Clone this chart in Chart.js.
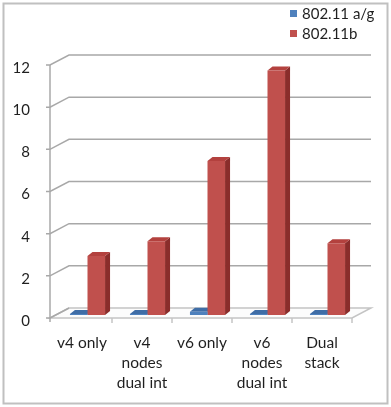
<!DOCTYPE html>
<html>
<head>
<meta charset="utf-8">
<script src="https://cdn.jsdelivr.net/npm/chart.js@4"></script>
<style>
    html, body { margin: 0; padding: 0; background: #fff; }
</style>
</head>
<body>
<canvas id="wifi-chart" width="391" height="407"></canvas>
<script>
// Veriler
const categories = [['v4 only'], ['v4', 'nodes', 'dual int'], ['v6 only'], ['v6', 'nodes', 'dual int'], ['Dual', 'stack']];
const seriesNames = ['802.11 a/g', '802.11b'];
const valuesAG = [0.05, 0.05, 0.15, 0.05, 0.05];
const valuesB = [2.8, 3.5, 7.3, 11.6, 3.4];
const yTicks = [0, 2, 4, 6, 8, 10, 12];

const COLORS = {
    ag: { front: '#4F81BD', top: '#3F6DA6', side: '#2F5488' },
    b: { front: '#C0504D', top: '#B3413E', side: '#8A2D2B' },
    grid: '#A8A8A8',
    floor: '#C4C4C4',
    text: '#1f1f1f'
};

// 3D derinlik ayarları
const BAR_SHIFT = { x: 5.5, y: -3 };
const BAR_DEPTH = { x: 5, y: -4 };
const WALL_DEPTH = { x: 19, y: -10 };

function poly(ctx, pts, fill, stroke) {
    ctx.beginPath();
    ctx.moveTo(pts[0][0], pts[0][1]);
    for (let i = 1; i < pts.length; i++) ctx.lineTo(pts[i][0], pts[i][1]);
    ctx.closePath();
    if (fill) { ctx.fillStyle = fill; ctx.fill(); }
    if (stroke) { ctx.strokeStyle = stroke; ctx.stroke(); }
}

// =================== 3D EXCEL GÖRÜNÜMÜ ===================
const excel3d = {
    id: 'excel3d',
    beforeDraw(chart) {
        const ctx = chart.ctx;
        ctx.save();
        ctx.fillStyle = '#fff';
        ctx.fillRect(0, 0, chart.width, chart.height);
        ctx.strokeStyle = '#C0C0C0';
        ctx.lineWidth = 2;
        ctx.strokeRect(3.5, 3.5, chart.width - 7, chart.height - 7);
        ctx.restore();
    },
    beforeDatasetsDraw(chart) {
        const ctx = chart.ctx;
        const xs = chart.scales.x;
        const ys = chart.scales.y;
        const axisX = xs.left - 2;
        const y0 = ys.getPixelForValue(0);

        ctx.save();
        ctx.lineWidth = 1.5;

        // Zemin
        poly(ctx, [
            [axisX, y0], [xs.right, y0],
            [xs.right + WALL_DEPTH.x, y0 + WALL_DEPTH.y],
            [axisX + WALL_DEPTH.x, y0 + WALL_DEPTH.y]
        ], '#fcfcfc', COLORS.floor);

        // Arka duvar çizgileri
        ctx.strokeStyle = COLORS.grid;
        yTicks.forEach(v => {
            const py = ys.getPixelForValue(v);
            ctx.beginPath();
            ctx.moveTo(axisX - 4, py);
            ctx.lineTo(axisX, py);
            ctx.lineTo(axisX + WALL_DEPTH.x, py + WALL_DEPTH.y);
            if (v !== 0) ctx.lineTo(xs.right + WALL_DEPTH.x, py + WALL_DEPTH.y);
            ctx.stroke();
        });

        // Dikey eksen
        ctx.beginPath();
        ctx.moveTo(axisX, ys.getPixelForValue(yTicks[yTicks.length - 1]));
        ctx.lineTo(axisX, y0 + 4);
        ctx.stroke();

        // Kategori çentikleri
        const step = (xs.right - xs.left) / categories.length;
        ctx.strokeStyle = COLORS.floor;
        for (let i = 1; i <= categories.length; i++) {
            const px = xs.left + i * step;
            ctx.beginPath();
            ctx.moveTo(px, y0);
            ctx.lineTo(px, y0 + 5);
            ctx.stroke();
        }

        // Çubukların üst ve yan yüzleri
        const faces = [COLORS.ag, COLORS.b];
        chart.data.datasets.forEach((ds, di) => {
            const meta = chart.getDatasetMeta(di);
            meta.data.forEach(bar => {
                const p = bar.getProps(['x', 'y', 'base', 'width'], true);
                const l = p.x - p.width / 2 + BAR_SHIFT.x;
                const r = p.x + p.width / 2 + BAR_SHIFT.x;
                const t = p.y + BAR_SHIFT.y;
                const b = p.base + BAR_SHIFT.y;
                poly(ctx, [[r, t], [r + BAR_DEPTH.x, t + BAR_DEPTH.y], [r + BAR_DEPTH.x, b + BAR_DEPTH.y], [r, b]], faces[di].side);
                poly(ctx, [[l, t], [l + BAR_DEPTH.x, t + BAR_DEPTH.y], [r + BAR_DEPTH.x, t + BAR_DEPTH.y], [r, t]], faces[di].top);
            });
        });
        ctx.restore();

        // Ön yüzler biraz içeride çiziliyor
        ctx.save();
        ctx.translate(BAR_SHIFT.x, BAR_SHIFT.y);
    },
    afterDatasetsDraw(chart) {
        chart.ctx.restore();
    },
    afterDraw(chart) {
        // Lejant (dikey, sağ üst)
        const ctx = chart.ctx;
        ctx.save();
        ctx.font = '15px Lato';
        ctx.textBaseline = 'middle';
        chart.data.datasets.forEach((ds, i) => {
            const cy = 14 + i * 20;
            ctx.fillStyle = ds.backgroundColor;
            ctx.fillRect(290, cy - 4, 7, 7);
            ctx.fillStyle = COLORS.text;
            ctx.fillText(ds.label, 302, cy);
        });
        ctx.restore();
    }
};

Chart.defaults.font.family = 'Lato';
Chart.defaults.font.size = 15;
Chart.defaults.color = COLORS.text;

new Chart(document.getElementById('wifi-chart'), {
    type: 'bar',
    data: {
        labels: categories,
        datasets: [
            { label: seriesNames[0], data: valuesAG, backgroundColor: COLORS.ag.front, clip: false },
            { label: seriesNames[1], data: valuesB, backgroundColor: COLORS.b.front, clip: false }
        ]
    },
    options: {
        responsive: false,
        animation: false,
        devicePixelRatio: 1,
        layout: { padding: { top: 65, right: 39, bottom: 0, left: 0 } },
        datasets: { bar: { categoryPercentage: 0.585, barPercentage: 1 } },
        plugins: { legend: { display: false }, tooltip: { enabled: false } },
        scales: {
            x: {
                grid: { display: false },
                border: { display: false },
                ticks: { padding: 7, maxRotation: 0, autoSkip: false, font: { size: 15.5, lineHeight: 1.3 } },
                afterFit(scale) { scale.height = 89; }
            },
            y: {
                min: 0,
                max: 12,
                grid: { display: false },
                border: { display: false },
                afterBuildTicks(scale) { scale.ticks = yTicks.map(v => ({ value: v })); },
                ticks: { padding: 14, labelOffset: 3 },
                afterFit(scale) { scale.width = 52; }
            }
        }
    },
    plugins: [excel3d]
});
</script>
</body>
</html>
